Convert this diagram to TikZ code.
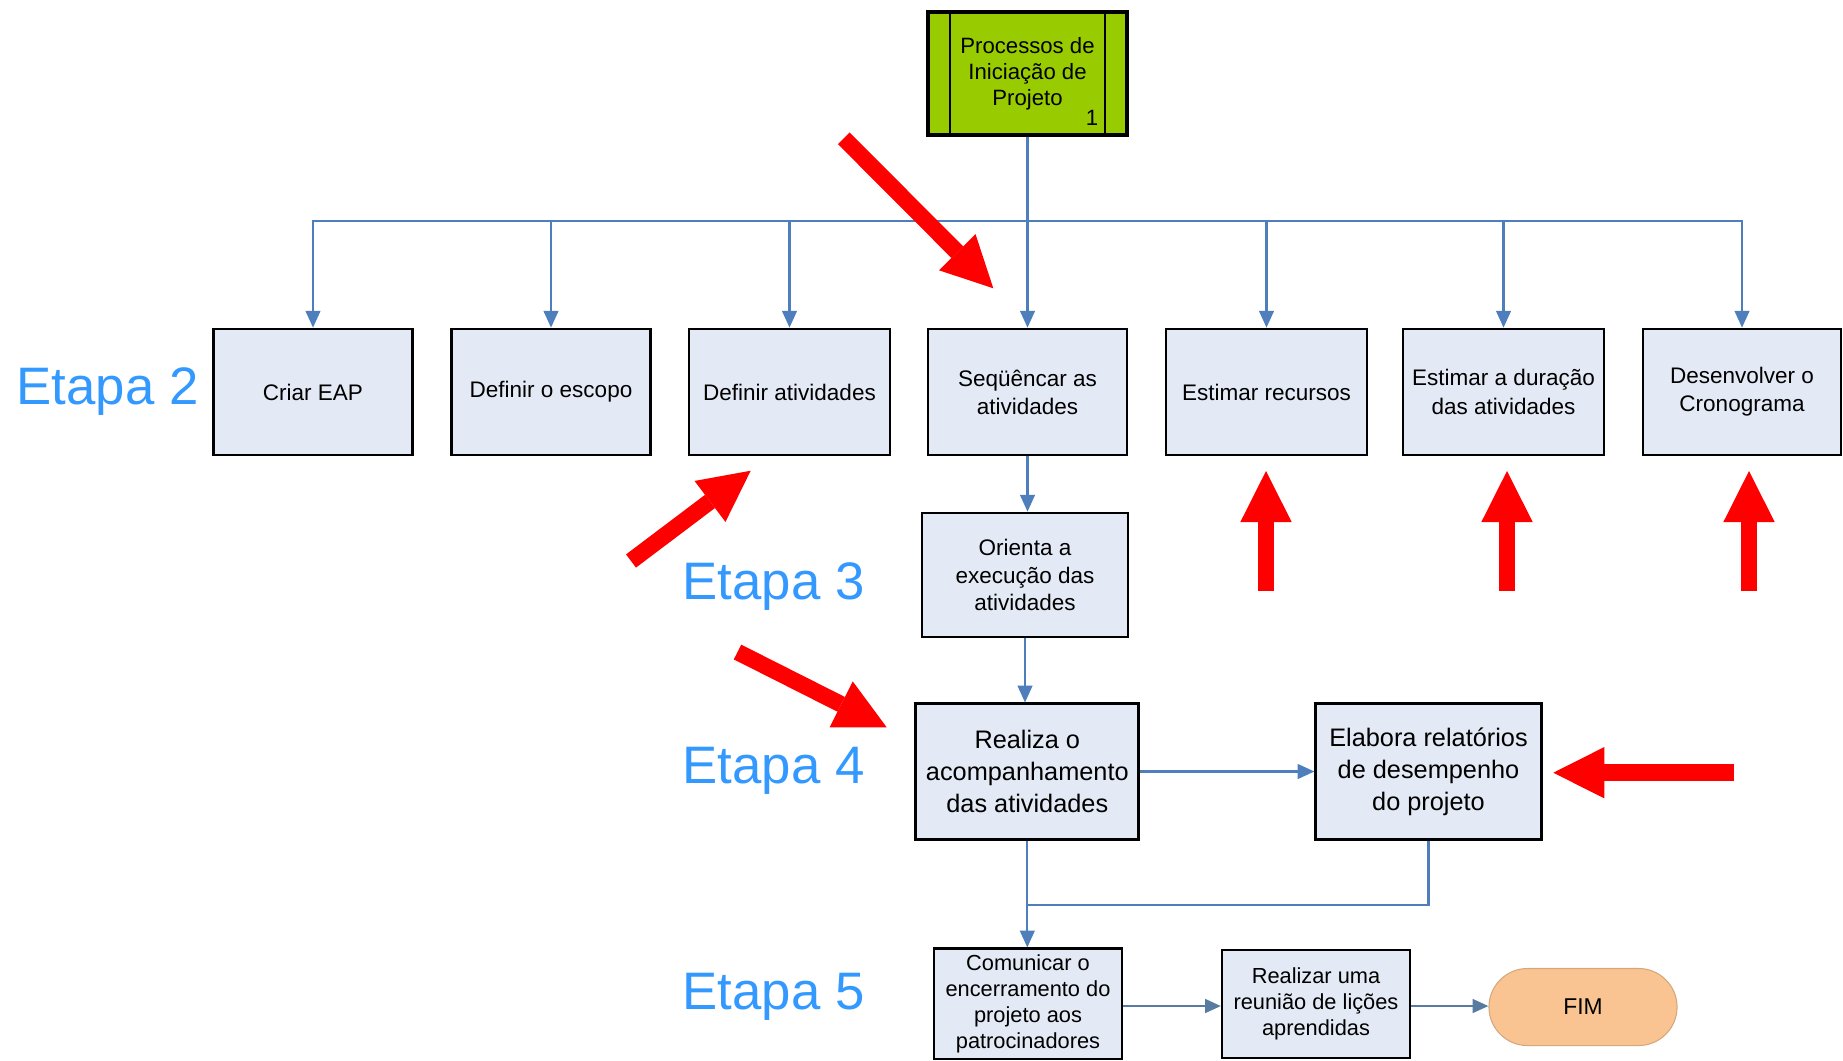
\documentclass[tikz,border=0pt]{standalone}
\usepackage{fontspec}
\setmainfont{Liberation Sans}
\usetikzlibrary{arrows.meta,calc,shapes.misc}

\definecolor{conncol}{RGB}{79,126,189}
\definecolor{conncolb}{RGB}{88,124,160}
\definecolor{boxfill}{RGB}{228,234,245}
\definecolor{topfill}{RGB}{153,204,0}
\definecolor{etapacol}{RGB}{51,153,255}
\definecolor{fimfill}{RGB}{249,196,146}
\definecolor{redarr}{RGB}{255,0,0}

\begin{document}
\begin{tikzpicture}[x=0.01cm,y=-0.01cm,
  procbox/.style={draw=black, line width=0.75pt, fill=boxfill, align=center, inner sep=0pt,
    font=\fontsize{6.4}{8}\selectfont},
  conn/.style={draw=conncol, line width=0.6pt},
  connarr/.style={conn, -{Triangle[length=4.8pt,width=4.2pt]}},
  connarrb/.style={draw=conncolb, line width=0.7pt, -{Triangle[length=4.5pt,width=3.9pt]}},
  redarrow/.style={draw=redarr, line width=4.7pt, -{Triangle[length=14.5pt,width=14.6pt,line width=0pt]}},
  etapa/.style={text=etapacol, font=\fontsize{15}{18}\selectfont, anchor=base west, inner sep=0pt},
]
\useasboundingbox (0,0) rectangle (1843,1060);

% top process box
\node[procbox, fill=topfill, line width=1pt, minimum width=1.99cm, minimum height=1.23cm,
  font=\fontsize{6.3}{7.4}\selectfont] (top) at (1027.5,73.5) {Processos de\\Iniciação de\\Projeto};
\draw[line width=0.7pt] ($(top.north west)+(24,0)$) -- ($(top.south west)+(24,0)$);
\draw[line width=0.7pt] ($(top.north east)+(-24,0)$) -- ($(top.south east)+(-24,0)$);
\node[inner sep=0pt, font=\fontsize{6.3}{7.4}\selectfont] (topnum) at (1092,118) {1};

% row 2
\node[procbox, minimum width=1.99cm, minimum height=1.26cm] (criar) at (313,392) {Criar EAP};
\node[procbox, minimum width=1.99cm, minimum height=1.26cm] (escopo) at (551,392) {Definir o escopo};
\node[procbox, minimum width=2.01cm, minimum height=1.26cm] (defat) at (789.5,392) {Definir atividades};
\node[procbox, minimum width=1.99cm, minimum height=1.26cm] (seq) at (1027.5,392) {Seqüêncar as\\atividades};
\node[procbox, minimum width=2.01cm, minimum height=1.26cm] (estrec) at (1266.5,392) {Estimar recursos};
\node[procbox, minimum width=2.01cm, minimum height=1.26cm] (estdur) at (1503.5,392) {Estimar a duração\\das atividades};
\node[procbox, minimum width=1.98cm, minimum height=1.26cm] (desenv) at (1742,392) {Desenvolver o\\Cronograma};

% row 3-4
\node[procbox, minimum width=2.06cm, minimum height=1.24cm, font=\fontsize{6.4}{7.7}\selectfont] (ori) at (1025,575) {Orienta a\\execução das\\atividades};
\node[procbox, line width=0.85pt, minimum width=2.23cm, minimum height=1.35cm, font=\fontsize{7.2}{9.1}\selectfont] (rea) at (1027.3,771.5) {Realiza o\\acompanhamento\\das atividades};
\node[procbox, line width=0.85pt, minimum width=2.25cm, minimum height=1.35cm, font=\fontsize{7.2}{9.1}\selectfont] (ela) at (1428.5,771.5) {Elabora relatórios\\de desempenho\\do projeto};

% row 5
\node[procbox, line width=0.6pt, minimum width=1.88cm, minimum height=1.1cm, font=\fontsize{6.2}{7.4}\selectfont] (com) at (1028,1003.5) {Comunicar o\\encerramento do\\projeto aos\\patrocinadores};
\node[procbox, line width=0.6pt, minimum width=1.88cm, minimum height=1.08cm, font=\fontsize{6.2}{7.3}\selectfont] (reu) at (1316,1004) {Realizar uma\\reunião de lições\\aprendidas};
\node[rounded rectangle, draw=fimfill!85!black, line width=0.3pt, fill=fimfill, minimum width=1.88cm, minimum height=0.77cm, inner sep=0pt, font=\fontsize{6.5}{8}\selectfont] (fim) at (1583,1007) {FIM};

% connectors
\coordinate (bus) at (0,221);
\draw[connarr] (top.south) -- (seq.north);
\foreach \n in {criar,escopo,defat,estrec,estdur,desenv}{
  \draw[connarr] (top.south |- bus) -| (\n.north);
}
\draw[connarr] (seq.south) -- (seq.south |- ori.north);
\draw[connarr] (ori.south) -- (ori.south |- rea.north);
\draw[connarr] (rea.east) -- (ela.west);
\coordinate (join) at (1028,905);
\draw[conn] (ela.south) |- (join);
\draw[connarr] (rea.south) -- (rea.south |- com.north);
\draw[connarrb] ($(com.east)+(0,2.5)$) -- ($(com.east -| reu.west)+(0,2.5)$);
\draw[connarrb] ($(reu.east)+(0,2)$) -- ($(reu.east -| fim.west)+(0,2)$);

% Etapa labels
\node[etapa] (e2) at (16,404.5) {Etapa 2};
\node[etapa] (e3) at (682,599.5) {Etapa 3};
\node[etapa] (e4) at (682,783) {Etapa 4};
\node[etapa] (e5) at (682,1009.7) {Etapa 5};

% red arrows
\coordinate (r1a) at (843.8,138.3); \coordinate (r1b) at (993.3,288.3);
\coordinate (r2a) at (631,561);     \coordinate (r2b) at (750.7,470.7);
\coordinate (r3a) at (737.5,652);   \coordinate (r3b) at (886.7,727.3);
\coordinate (r4a) at (1266,591);    \coordinate (r4b) at (1266,471);
\coordinate (r5a) at (1507,591);    \coordinate (r5b) at (1507,471);
\coordinate (r6a) at (1749,591);    \coordinate (r6b) at (1749,471);
\coordinate (r7a) at (1734.3,772.7); \coordinate (r7b) at (1553.3,772.7);
\foreach \i in {1,...,7}{
  \draw[redarrow] (r\i a) -- (r\i b);
}
\end{tikzpicture}
\end{document}
